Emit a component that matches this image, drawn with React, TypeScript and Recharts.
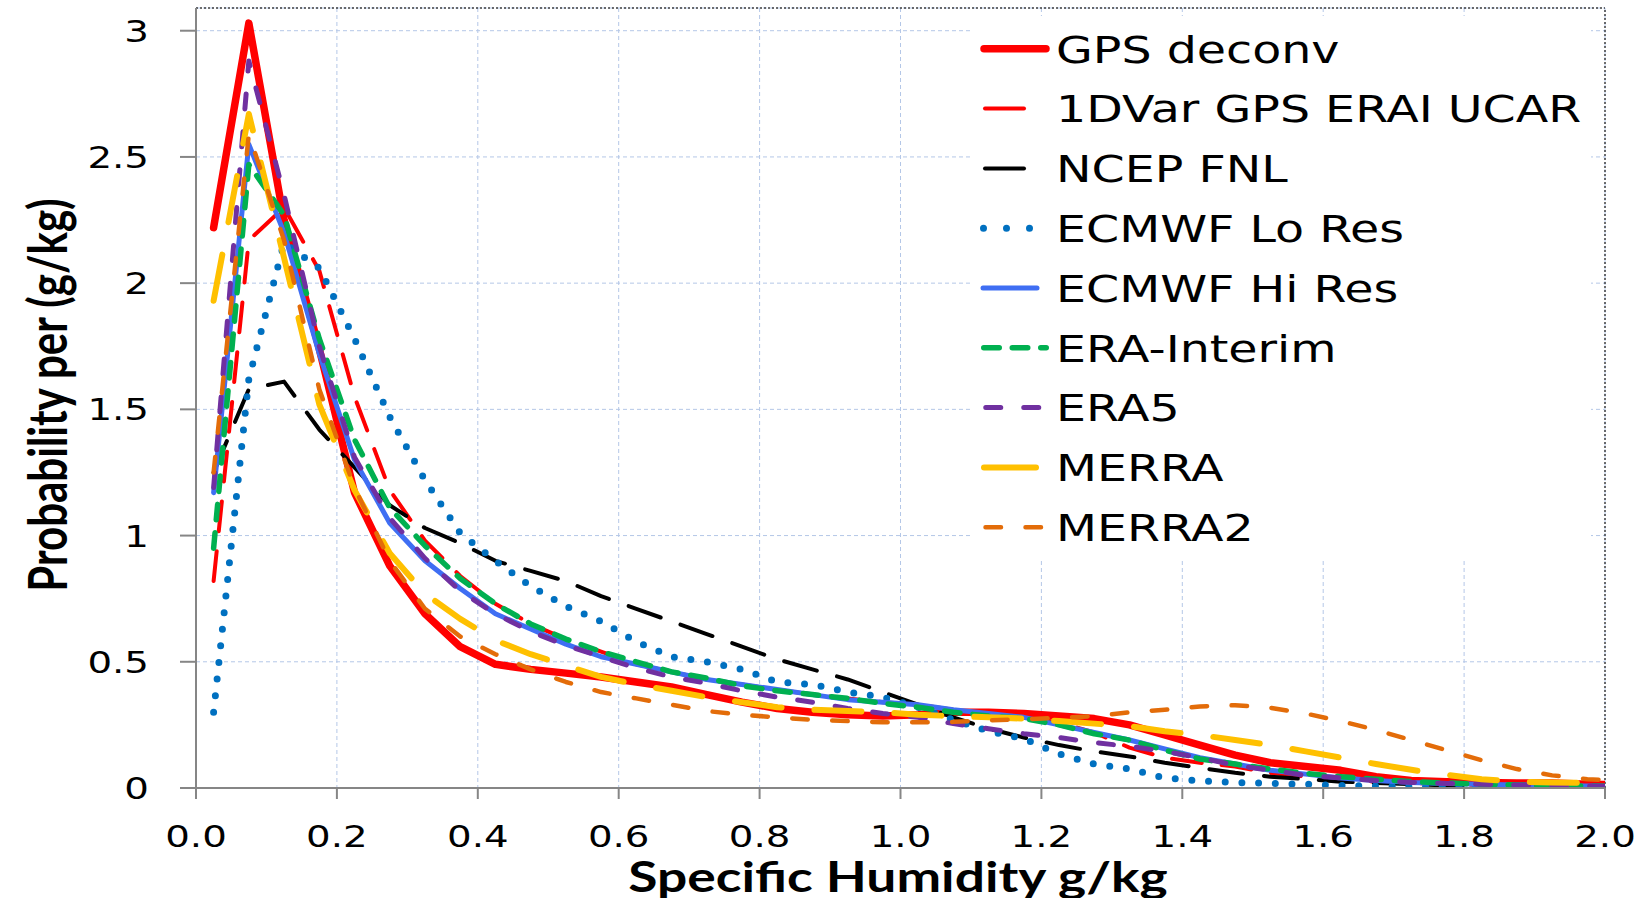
import React from "react";
import { LineChart, Line, XAxis, YAxis, CartesianGrid, ReferenceLine } from "recharts";

// bin centres, g/kg
const humidity = [
  0.025, 0.075, 0.125, 0.175, 0.225, 0.275, 0.325, 0.375, 0.425, 0.475,
  0.525, 0.575, 0.625, 0.675, 0.725, 0.775, 0.825, 0.875, 0.925, 0.975,
  1.025, 1.075, 1.125, 1.175, 1.225, 1.275, 1.325, 1.375, 1.425, 1.475,
  1.525, 1.575, 1.625, 1.675, 1.725, 1.775, 1.825, 1.875, 1.925, 1.975, 2.025,
];

const gpsDeconv = [
  2.22, 3.03, 2.25, 1.74, 1.17, 0.88, 0.69, 0.56, 0.49, 0.47,
  0.455, 0.44, 0.42, 0.4, 0.37, 0.34, 0.315, 0.3, 0.29, 0.285,
  0.29, 0.3, 0.3, 0.295, 0.285, 0.275, 0.25, 0.21, 0.17, 0.13,
  0.1, 0.085, 0.07, 0.045, 0.03, 0.025, 0.022, 0.02, 0.02, 0.015, 0.012,
];
const ucar1dvar = [
  0.82, 2.17, 2.3, 2.05, 1.55, 1.18, 0.98, 0.84, 0.73, 0.65,
  0.59, 0.54, 0.49, 0.46, 0.43, 0.41, 0.39, 0.37, 0.355, 0.34,
  0.33, 0.31, 0.295, 0.28, 0.26, 0.22, 0.16, 0.12, 0.1, 0.085,
  0.06, 0.045, 0.035, 0.025, 0.02, 0.015, 0.012, 0.01, 0.01, 0.01, 0.008,
];
const ncepFnl = [
  1.25, 1.58, 1.61, 1.42, 1.27, 1.12, 1.03, 0.97, 0.9, 0.86,
  0.82, 0.76, 0.71, 0.66, 0.61, 0.56, 0.51, 0.47, 0.43, 0.38,
  0.33, 0.28, 0.235, 0.2, 0.17, 0.145, 0.125, 0.1, 0.08, 0.06,
  0.045, 0.035, 0.025, 0.02, 0.015, 0.01, 0.01, 0.008, 0.005, 0.005, 0.005,
];
const ecmwfLo = [
  0.3, 1.62, 2.16, 2.06, 1.78, 1.47, 1.22, 1.01, 0.9, 0.8,
  0.72, 0.66, 0.58, 0.52, 0.5, 0.47, 0.42, 0.41, 0.38, 0.36,
  0.32, 0.27, 0.225, 0.195, 0.135, 0.095, 0.075, 0.04, 0.028, 0.022,
  0.018, 0.015, 0.01, 0.008, 0.006, 0.005, 0.005, 0.004, 0.003, 0.003, 0.003,
];
const ecmwfHi = [
  1.17, 2.55, 2.2, 1.72, 1.3, 1.05, 0.9, 0.79, 0.69, 0.63,
  0.57, 0.52, 0.49, 0.46, 0.43, 0.41, 0.39, 0.37, 0.35, 0.34,
  0.33, 0.31, 0.295, 0.28, 0.25, 0.22, 0.19, 0.155, 0.12, 0.095,
  0.07, 0.055, 0.04, 0.03, 0.022, 0.018, 0.015, 0.012, 0.01, 0.008, 0.006,
];
const eraInterim = [
  0.95, 2.47, 2.27, 1.78, 1.38, 1.11, 0.96, 0.83, 0.73, 0.65,
  0.59, 0.54, 0.5, 0.46, 0.435, 0.405, 0.385, 0.37, 0.355, 0.335,
  0.32, 0.3, 0.285, 0.275, 0.25, 0.215, 0.19, 0.15, 0.115, 0.095,
  0.075, 0.058, 0.045, 0.035, 0.025, 0.02, 0.015, 0.012, 0.01, 0.008, 0.006,
];
const era5 = [
  1.19, 2.88, 2.35, 1.75, 1.31, 1.07, 0.91, 0.78, 0.69, 0.62,
  0.565, 0.52, 0.475, 0.44, 0.415, 0.385, 0.36, 0.34, 0.315, 0.295,
  0.28, 0.255, 0.235, 0.215, 0.2, 0.18, 0.165, 0.145, 0.12, 0.09,
  0.07, 0.05, 0.04, 0.03, 0.022, 0.018, 0.015, 0.012, 0.01, 0.008, 0.006,
];
const merra = [
  1.93, 2.67, 2.1, 1.52, 1.18, 0.93, 0.77, 0.67, 0.585, 0.53,
  0.485, 0.44, 0.41, 0.385, 0.36, 0.34, 0.32, 0.31, 0.305, 0.3,
  0.29, 0.285, 0.28, 0.275, 0.265, 0.255, 0.245, 0.225, 0.21, 0.19,
  0.17, 0.145, 0.12, 0.095, 0.072, 0.052, 0.035, 0.025, 0.022, 0.02, 0.018,
];
const merra2 = [
  1.25, 2.59, 2.17, 1.58, 1.19, 0.9, 0.71, 0.6, 0.53, 0.47,
  0.42, 0.38, 0.355, 0.33, 0.305, 0.29, 0.28, 0.27, 0.265, 0.26,
  0.26, 0.262, 0.268, 0.272, 0.278, 0.285, 0.3, 0.31, 0.323, 0.328,
  0.318, 0.295, 0.265, 0.23, 0.19, 0.15, 0.11, 0.075, 0.05, 0.035, 0.028,
];

const xTicks = [0, 0.2, 0.4, 0.6, 0.8, 1.0, 1.2, 1.4, 1.6, 1.8, 2.0];
const yTicks = [0, 0.5, 1, 1.5, 2, 2.5, 3];

// source picture is stretched sideways, so text gets the same stretch
const STRETCH = 1.27;
const LEGEND_STRETCH = 1.25;

type Sample =
  | { kind: "solid"; from: number; to: number }
  | { kind: "dash"; from: number; to: number };

interface Series {
  key: string;
  name: string;
  values: number[];
  color: string;
  width: number;
  dash?: string;
  sample: Sample;
}

const series: Series[] = [
  { key: "gps", name: "GPS deconv", values: gpsDeconv, color: "#ff0000", width: 7.5, sample: { kind: "solid", from: 12, to: 74 } },
  { key: "ucar", name: "1DVar GPS ERAI UCAR", values: ucar1dvar, color: "#ff0000", width: 4, dash: "30 20", sample: { kind: "solid", from: 13, to: 52 } },
  { key: "ncep", name: "NCEP FNL", values: ncepFnl, color: "#000000", width: 4, dash: "34 21", sample: { kind: "solid", from: 13, to: 52 } },
  { key: "lo", name: "ECMWF Lo Res", values: ecmwfLo, color: "#0070c0", width: 7, dash: "0 16.7", sample: { kind: "dash", from: 11.5, to: 58 } },
  { key: "hi", name: "ECMWF Hi Res", values: ecmwfHi, color: "#3f6ef3", width: 5, sample: { kind: "solid", from: 11, to: 65 } },
  { key: "erai", name: "ERA-Interim", values: eraInterim, color: "#00b050", width: 5.5, dash: "15.5 13", sample: { kind: "dash", from: 11.75, to: 74.25 } },
  { key: "era5", name: "ERA5", values: era5, color: "#7030a0", width: 5, dash: "15 23", sample: { kind: "dash", from: 13.75, to: 67.25 } },
  { key: "merra", name: "MERRA", values: merra, color: "#ffc000", width: 6, dash: "47 33", sample: { kind: "solid", from: 12, to: 64 } },
  { key: "merra2", name: "MERRA2", values: merra2, color: "#e36c09", width: 4.5, dash: "15.5 24.5", sample: { kind: "dash", from: 13.5, to: 69 } },
];

const rows = humidity.map((x, i) => {
  const row: Record<string, number> = { x };
  series.forEach((s) => {
    row[s.key] = s.values[i];
  });
  return row;
});

const XTick = (props: any) => {
  const { x, y, payload } = props;
  return (
    <g transform={`translate(${x},${y})`}>
      <text transform={`scale(${STRETCH},1)`} x={0} y={46} textAnchor="middle" fontFamily="DejaVu Sans" fontSize={30.5} fill="#000">
        {Number(payload.value).toFixed(1)}
      </text>
    </g>
  );
};

const YTick = (props: any) => {
  const { x, y, payload } = props;
  return (
    <g transform={`translate(${x - 29},${y})`}>
      <text transform={`scale(${STRETCH},1)`} x={0} y={11} textAnchor="end" fontFamily="DejaVu Sans" fontSize={30.5} fill="#000">
        {String(payload.value)}
      </text>
    </g>
  );
};

function LegendBox() {
  return (
    <div style={{ position: "absolute", left: 972, top: 16, width: 619, height: 542, background: "#fff" }}>
      <svg width={619} height={542}>
        {series.map((s, i) => {
          const cy = 32.8 + i * 59.8;
          return (
            <g key={s.key}>
              <line
                x1={s.sample.from}
                x2={s.sample.to}
                y1={cy}
                y2={cy}
                stroke={s.color}
                strokeWidth={s.width}
                strokeLinecap="round"
                strokeDasharray={s.sample.kind === "dash" ? (s.key === "lo" ? "0 23" : s.dash) : undefined}
              />
              <text transform={`translate(84,${cy + 13.8}) scale(${LEGEND_STRETCH},1)`} fontFamily="DejaVu Sans" fontSize={38} fill="#000">
                {s.name}
              </text>
            </g>
          );
        })}
      </svg>
    </div>
  );
}

const titleFont: React.CSSProperties = {
  position: "absolute",
  fontFamily: "Lato, sans-serif",
  fontWeight: 700,
  fontSize: 42,
  whiteSpace: "nowrap",
  color: "#000",
  lineHeight: 1,
};

export default function App() {
  return (
    <div style={{ position: "absolute", left: 0, top: 0, width: 1651, height: 898, background: "#fff" }}>
      <LineChart width={1651} height={898} data={rows} margin={{ top: 8, right: 46, bottom: 50, left: 0 }}>
        <CartesianGrid stroke="#b4c7e7" strokeDasharray="4 3" strokeWidth={1} />
        <XAxis
          type="number"
          dataKey="x"
          domain={[0, 2]}
          ticks={xTicks}
          allowDataOverflow
          height={60}
          tickSize={11}
          axisLine={{ stroke: "#868686", strokeWidth: 2 }}
          tickLine={{ stroke: "#868686", strokeWidth: 2 }}
          tick={<XTick />}
        />
        <YAxis
          type="number"
          domain={[0, 3.09]}
          ticks={yTicks}
          allowDataOverflow
          width={196}
          tickSize={16}
          axisLine={{ stroke: "#868686", strokeWidth: 2 }}
          tickLine={{ stroke: "#868686", strokeWidth: 2 }}
          tick={<YTick />}
        />
        <ReferenceLine y={3.09} stroke="#404040" strokeDasharray="2 2" strokeWidth={1.5} />
        <ReferenceLine x={2} stroke="#404040" strokeDasharray="2 2" strokeWidth={1.5} />
        {series.map((s) => (
          <Line
            key={s.key}
            type="linear"
            dataKey={s.key}
            name={s.name}
            stroke={s.color}
            strokeWidth={s.width}
            strokeDasharray={s.dash}
            strokeLinecap="round"
            strokeLinejoin="round"
            dot={false}
            activeDot={false}
            isAnimationActive={false}
          />
        ))}
      </LineChart>
      <LegendBox />
      <div style={{ ...titleFont, left: 47, top: 395, transform: `translate(-50%,-50%) scale(${STRETCH},1) rotate(-90deg)` }}>
        Probability per (g/kg)
      </div>
      <div style={{ ...titleFont, left: 898, top: 876, transform: `translate(-50%,-50%) scale(${STRETCH},1)` }}>
        Specific Humidity g/kg
      </div>
    </div>
  );
}
